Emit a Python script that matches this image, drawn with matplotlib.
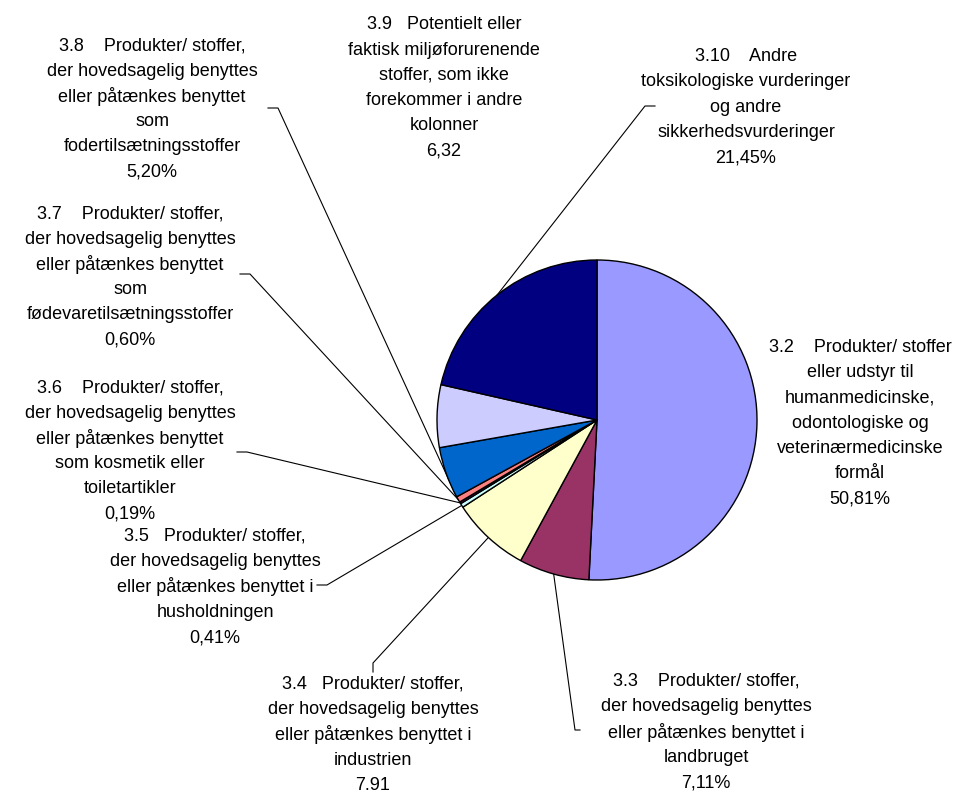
import numpy as np
import matplotlib
matplotlib.use('Agg')
import matplotlib.pyplot as plt

plt.rcParams['font.family'] = ['Liberation Sans', 'DejaVu Sans']

W, H = 967, 796

categories = ['3.2', '3.3', '3.4', '3.5', '3.6', '3.7', '3.8', '3.9', '3.10']
values = [50.81, 7.11, 7.91, 0.41, 0.19, 0.60, 5.20, 6.32, 21.45]
colors = ['#9999FF', '#993366', '#FFFFCC', '#CCFFFF', '#660066',
          '#FF8080', '#0066CC', '#CCCCFF', '#000080']
labels = [
    '3.2    Produkter/ stoffer\neller udstyr til\nhumanmedicinske,\nodontologiske og\nveterinærmedicinske\nformål\n50,81%',
    '3.3    Produkter/ stoffer,\nder hovedsagelig benyttes\neller påtænkes benyttet i\nlandbruget\n7,11%',
    '3.4   Produkter/ stoffer,\nder hovedsagelig benyttes\neller påtænkes benyttet i\nindustrien\n7.91',
    '3.5   Produkter/ stoffer,\nder hovedsagelig benyttes\neller påtænkes benyttet i\nhusholdningen\n0,41%',
    '3.6    Produkter/ stoffer,\nder hovedsagelig benyttes\neller påtænkes benyttet\nsom kosmetik eller\ntoiletartikler\n0,19%',
    '3.7    Produkter/ stoffer,\nder hovedsagelig benyttes\neller påtænkes benyttet\nsom\nfødevaretilsætningsstoffer\n0,60%',
    '3.8    Produkter/ stoffer,\nder hovedsagelig benyttes\neller påtænkes benyttet\nsom\nfodertilsætningsstoffer\n5,20%',
    '3.9   Potentielt eller\nfaktisk miljøforurenende\nstoffer, som ikke\nforekommer i andre\nkolonner\n6,32',
    '3.10    Andre\ntoksikologiske vurderinger\nog andre\nsikkerhedsvurderinger\n21,45%',
]

# label centres in pixel coords (y from top)
label_pos = [(860, 421), (706, 730), (373, 733), (215, 585), (130, 449),
             (130, 275), (152, 107), (444, 86), (746, 105)]
# leader line: tick start, tick end (pixel coords), None = no leader
ticks = [None, ((580, 730), (575, 730)), ((373, 672), (373, 663)),
         ((317, 585), (327, 585)), ((237, 452), (247, 452)),
         ((240, 274), (250, 274)), ((268, 108), (278, 108)), None,
         ((655, 106), (645, 106))]
# where on the slice the leader lands (0 = slice start, 0.5 = middle)
anchor = [0.5, 0.5, 0.5, 0.5, 0.5, 0.5, 0.0, 0.5, 0.5]

cx, cy, r = 597, 420, 160
line_h = 25.3

fig = plt.figure(figsize=(W / 100, H / 100), dpi=100)
ax = fig.add_axes([0, 0, 1, 1])
ax.pie(values, colors=colors, startangle=90, counterclock=False,
       center=(cx, H - cy), radius=r,
       wedgeprops=dict(edgecolor='black', linewidth=1.0))
ax.set_xlim(0, W)
ax.set_ylim(0, H)
ax.set_aspect('equal')
ax.axis('off')

total = sum(values)
cum = np.concatenate([[0], np.cumsum(values)]) / total
for i, lab in enumerate(labels):
    x, y = label_pos[i]
    rows = lab.split('\n')
    n = len(rows)
    for k, row in enumerate(rows):
        yy = y + (k - (n - 1) / 2) * line_h
        ax.text(x, H - yy, row, ha='center', va='center_baseline',
                fontsize=13, color='black')
    if ticks[i] is None:
        continue
    frac = cum[i] + anchor[i] * (cum[i + 1] - cum[i])
    ang = np.deg2rad(90 - 360 * frac)
    px = cx + r * np.cos(ang)
    py = H - cy + r * np.sin(ang)
    (x0, y0), (x1, y1) = ticks[i]
    ax.plot([x0, x1, px], [H - y0, H - y1, py], color='black', linewidth=0.8,
            zorder=0.5)

fig.savefig('out.png', dpi=100)
